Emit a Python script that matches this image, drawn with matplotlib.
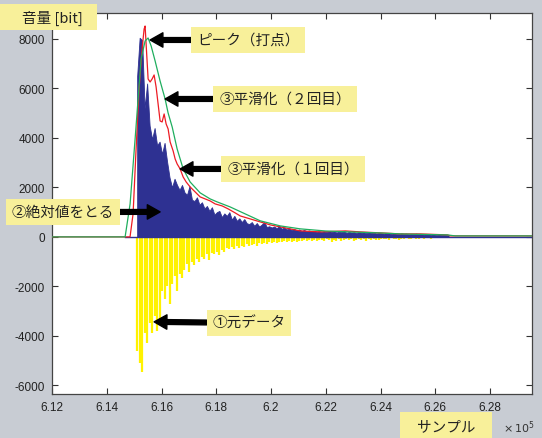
import matplotlib
matplotlib.use('Agg')
import matplotlib.pyplot as plt
from matplotlib.patches import Rectangle
import numpy as np

plt.rcParams['font.family'] = ['Noto Sans CJK JP', 'DejaVu Sans']

BG = '#c8ccd3'
LABEL_BG = '#f8f09a'
C_YELLOW = '#fff200'
C_BLUE = '#2e3192'
C_RED = '#ed1c24'
C_GREEN = '#1fae5e'

# ---- data (sample number / amplitude in bit) ----
SPIKE_START = 615110     # first sample of the sound
SPIKE_STEP = 91          # spacing of plotted samples

blue_vals = [6500, 8050, 7950, 5200, 6200, 4500, 3950, 4400, 3700, 3850,
             3350, 3800, 3050, 2400, 2000, 2350, 2100, 1900, 2100, 1800,
             1700, 2050, 1500, 1450, 1600, 1300, 1400, 1150, 1250, 1050,
             1200, 900, 1000, 1050, 800, 950, 850, 1000, 700, 850,
             650, 750, 600, 720, 550, 520, 600, 450, 560, 420,
             500, 600, 400, 430, 380, 420, 350, 450, 330, 380,
             300, 350, 280, 320, 260, 300, 240, 280, 230, 260,
             220, 240, 210, 230, 200,
             230, 190, 240, 200, 220, 180, 210, 190, 230, 170,
             200, 180, 190, 160, 200, 170, 180, 150, 190, 160,
             170, 140, 160, 150, 130, 160, 140, 120, 150, 130,
             110, 140, 120, 130, 100, 120, 110, 130, 100, 110,
             90, 120, 100, 90, 110, 80, 100, 90, 80, 70,
             60]

yellow_vals = [-4600, -5100, -5450, -3900, -4300, -3500, -3900, -3200, -3800, -3300,
               -2200, -2500, -2000, -2700, -1900, -1600, -2200, -1500, -1650, -1350,
               -1100, -1400, -1000, -1150, -900, -1000, -800, -900, -700, -950,
               -650, -700, -600, -750, -520, -600, -450, -500, -420, -480,
               -380, -450, -350, -420, -300, -380, -320, -280, -350, -260,
               -300, -240, -280, -220, -260, -200, -240, -190, -220, -180,
               -210, -170, -200, -160, -190, -150, -180, -140, -170, -130,
               -160, -120, -150, -110, -140,
               -160, -100, -130, -200, -110, -150, -90, -170, -120, -100,
               -140, -90, -160, -110, -80, -130, -100, -150, -90, -120,
               -80, -110, -140, -70, -100, -90, -120, -60, -100, -80,
               -110, -70, -90, -60, -100, -80, -60, -90, -70, -50,
               -80, -60, -50, -70, -40, -60, -50, -40, -60, -30,
               -40]

# smoothing, 1st pass (red)
red_x = [612000, 614850, 614961, 615071, 615181, 615290, 615364, 615400, 615437,
         615510, 615583, 615656, 615729, 615802, 615875, 615948, 616022, 616095,
         616168, 616241, 616314, 616424, 616497, 616570, 616680, 616789, 616899,
         617045, 617228, 617411, 617594, 617776, 617959, 618215, 618435, 618690,
         618873, 619239, 619605, 619970, 620336, 620701, 621067, 621798, 622712,
         623260, 623992, 624723, 625454, 626441, 626551, 629549]
red_y = [0, 0, 929, 3555, 5979, 7595, 8403, 8524, 7797,
         6383, 6262, 6383, 6545, 6060, 5373, 4686, 4646, 4969,
         4565, 4363, 3838, 3474, 3151, 2949, 2747, 2424, 2222,
         2020, 1818, 1616, 1535, 1454, 1333, 1252, 1131, 970,
         848, 727, 606, 485, 404, 323, 242, 202, 242,
         202, 162, 121, 121, 81, 40, 40]

# smoothing, 2nd pass (green)
green_x = [612000, 614670, 614852, 615035, 615254, 615400, 615510, 615620,
           615766, 615948, 616131, 616240, 616390, 616570, 616790, 617045,
           617411, 617776, 618030, 618508, 619056, 619605, 620336, 621067,
           621980, 622895, 623992, 624723, 626440, 626730, 629549]
green_y = [0, 0, 1330, 3960, 7190, 7920, 8040, 7720,
           7110, 6300, 5575, 5010, 4440, 3555, 2750, 2220,
           1780, 1535, 1415, 1210, 930, 650, 445, 325,
           240, 200, 160, 120, 80, 40, 40]

x_ticks = [612000, 614000, 616000, 618000, 620000, 622000, 624000, 626000, 628000]
x_ticklabels = ['6.12', '6.14', '6.16', '6.18', '6.2', '6.22', '6.24', '6.26', '6.28']
y_ticks = [-6000, -4000, -2000, 0, 2000, 4000, 6000, 8000]

W, H = 542, 439
fig = plt.figure(figsize=(W / 100, H / 100), dpi=100)
fig.patch.set_facecolor(BG)
ax = fig.add_axes([52 / W, 1 - 395 / H, 480 / W, 381 / H])
ax.set_facecolor('white')

spike_x = SPIKE_START + SPIKE_STEP * np.arange(len(blue_vals))
ax.vlines(spike_x, 0, yellow_vals, color=C_YELLOW, lw=1.6, zorder=2)
ax.plot([614670, 629549], [0, 0], color=C_BLUE, lw=1.0, zorder=2)
ax.fill_between(spike_x, 0, blue_vals, color=C_BLUE, lw=0.6, ec=C_BLUE, zorder=3)
ax.plot(red_x, red_y, color=C_RED, lw=0.9, zorder=4)
ax.plot(green_x, green_y, color=C_GREEN, lw=0.9, zorder=5)

ax.set_xlim(612000, 629530)
ax.set_ylim(-6350, 9050)
ax.set_xticks(x_ticks)
ax.set_xticklabels(x_ticklabels)
ax.set_yticks(y_ticks)
ax.set_yticklabels([str(v) for v in y_ticks])
ax.tick_params(direction='in', length=4, width=0.8, top=True, right=True,
               labelsize=8.5, pad=5, colors='#333333', labelcolor='#222222')
for lab in ax.get_xticklabels() + ax.get_yticklabels():
    lab.set_family('Liberation Sans')
for sp in ax.spines.values():
    sp.set_edgecolor('#444444')
    sp.set_linewidth(0.9)

# axis labels as yellow boxes (figure pixels, origin bottom-left)
fig.patches.append(Rectangle((0, H - 31), 97, 26, transform=None,
                             fc=LABEL_BG, ec='none', zorder=5))
fig.text(52 / W, 1 - 18 / H, '音量 [bit]', fontsize=10.5, ha='center',
         va='center', color='#222222', zorder=6)
fig.patches.append(Rectangle((400, 0), 92, H - 413, transform=None,
                             fc=LABEL_BG, ec='none', zorder=5))
fig.text(446 / W, 1 - 427 / H, 'サンプル', fontsize=10.5, ha='center',
         va='center', color='#222222', zorder=6)
fig.text(503 / W, 1 - 428 / H, r'$\times\,10^{5}$', fontsize=8,
         ha='left', va='center', color='#333333', family='DejaVu Sans')

# arrow annotations: (text, tip x, tip y, text centre in figure pixels)
box = dict(boxstyle='square,pad=0.4', fc=LABEL_BG, ec='none')
notes = [
    ('ピーク（打点）', 615583, 7960, (248, H - 41)),
    ('③平滑化（２回目）', 616131, 5575, (285, H - 100)),
    ('③平滑化（１回目）', 616680, 2747, (293, H - 170)),
    ('②絶対値をとる', 615948, 1010, (63, H - 213)),
    ('①元データ', 615729, -3434, (249, H - 324)),
]
for txt, tx, ty, pos in notes:
    ax.annotate(txt, xy=(tx, ty), xycoords='data', xytext=pos,
                textcoords='figure pixels', ha='center', va='center',
                fontsize=10.5, color='#222222', bbox=box, zorder=10,
                annotation_clip=False,
                arrowprops=dict(arrowstyle='simple,head_length=0.8,head_width=0.9,tail_width=0.3',
                                fc='black', ec='black', mutation_scale=11.5,
                                shrinkA=0, shrinkB=0))

fig.savefig('out.png', dpi=100, facecolor=fig.get_facecolor())
